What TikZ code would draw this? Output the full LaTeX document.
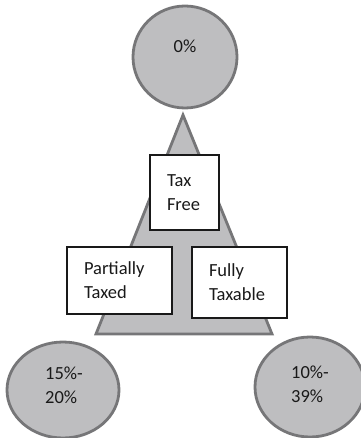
\documentclass[tikz,border=0pt]{standalone}
\usepackage{fontspec}
\setmainfont{Carlito}
\usepackage{tikz}
\definecolor{discgray}{RGB}{190,190,192}
\definecolor{rimgray}{RGB}{118,118,120}
\definecolor{inkgray}{RGB}{25,25,25}

\begin{document}
\begin{tikzpicture}[x=1pt,y=-1pt,
    disc/.style={fill=discgray, draw=rimgray, line width=2.8pt},
    lbl/.style={text=inkgray, align=left, font=\fontsize{18.5}{24}\selectfont},
    taxbox/.style={lbl, draw=inkgray, fill=white, line width=1.2pt, inner xsep=17pt, inner ysep=0pt}]
    \useasboundingbox (0,0) rectangle (360,438);

    % Draw the triangle behind the boxes
    \filldraw[disc] (183,115) -- (272,334) -- (96,334) -- cycle;

    % Draw the three rate circles
    \filldraw[disc] (185,57) ellipse (52 and 51);
    \filldraw[disc] (63,390) ellipse (56 and 48);
    \filldraw[disc] (310,387) ellipse (55 and 50);

    % Label the circles
    \node[lbl] (zero) at (185,46) {0\%};
    \node[lbl] (partrate) at (64,385) {15\%-\\20\%};
    \node[lbl] (fullrate) at (310,384) {10\%-\\39\%};

    % Draw the boxes on the triangle
    \node[taxbox, text width=35, minimum height=75] (free) at (184.5,192.5) {Tax\\Free};
    \node[taxbox, text width=71, minimum height=67] (partial) at (119.5,280.5) {Partially\\Taxed};
    \node[taxbox, text width=61, minimum height=71] (full) at (239.5,282.5) {Fully\\Taxable};
\end{tikzpicture}
\end{document}
